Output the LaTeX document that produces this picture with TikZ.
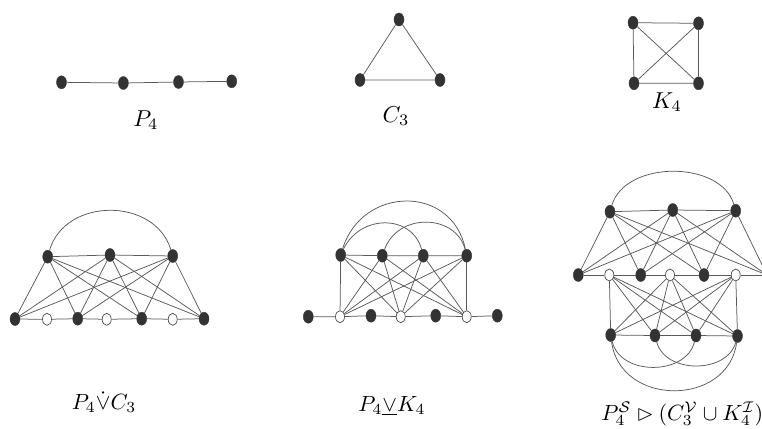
\documentclass[tikz,border=0pt]{standalone}
\usepackage{amssymb}
\usetikzlibrary{shapes.geometric}
\begin{document}
\begin{tikzpicture}[x=1pt,y=-1pt,
  vb/.style={ellipse,fill=black!80,draw=black!80,minimum width=10pt,minimum height=13pt,inner sep=0pt},
  vw/.style={ellipse,fill=white,draw=black!70,line width=0.7pt,minimum width=9pt,minimum height=12pt,inner sep=0pt},
  ed/.style={draw=black!65,line width=0.75pt},
  lab/.style={scale=2.2,inner sep=0pt},
  labt/.style={scale=2.3,inner sep=0pt}]
\useasboundingbox (0,0) rectangle (762,428);
% ---------- top row ----------
\node[vb] (p1) at (61.5,82.3) {};
\node[vb] (p2) at (123.4,83) {};
\node[vb] (p3) at (178.5,82) {};
\node[vb] (p4) at (231.7,81.3) {};
\draw[ed] (p1) -- (p2) -- (p3) -- (p4);
\node[labt] (lp) at (146,120) {$P_4$};

\node[vb] (c1) at (399,19.5) {};
\node[vb] (c2) at (360,80) {};
\node[vb] (c3) at (440,80) {};
\draw[ed] (c1) -- (c2) -- (c3) -- (c1);
\node[labt] (lc) at (396,116) {$C_3$};

\node[vb] (k1) at (633,22.7) {};
\node[vb] (k2) at (698.5,23.3) {};
\node[vb] (k3) at (634,83.3) {};
\node[vb] (k4) at (698.5,83.3) {};
\draw[ed] (k1) -- (k2) -- (k4) -- (k3) -- (k1);
\draw[ed] (k1) -- (k4);
\draw[ed] (k2) -- (k3);
\node[labt] (lk) at (667,102) {$K_4$};

% ---------- figure 1 ----------
\node[vb] (A1) at (47.7,256.7) {};
\node[vb] (A2) at (110,255) {};
\node[vb] (A3) at (172.7,256) {};
\node[vb] (B1) at (15,319) {};
\node[vw] (W1) at (47,319.3) {};
\node[vb] (B2) at (77.7,318.7) {};
\node[vw] (W2) at (106.7,319.3) {};
\node[vb] (B3) at (141.7,318.7) {};
\node[vw] (W3) at (172.7,319.3) {};
\node[vb] (B4) at (204,318.7) {};
\draw[ed] (A1) -- (A2) -- (A3);
\draw[ed] (A1) .. controls (65,197) and (155,197) .. (A3);
\draw[ed] (B1) -- (W1) -- (B2) -- (W2) -- (B3) -- (W3) -- (B4);
\foreach \a in {A1,A2,A3}{\foreach \b in {B1,B2,B3,B4}{\draw[ed] (\a) -- (\b);}}
\node[lab] (l1) at (104,402) {$P_4\dot{\vee}C_3$};

% ---------- figure 2 ----------
\node[vb] (D1) at (340.7,255) {};
\node[vb] (D2) at (382.3,255.7) {};
\node[vb] (D3) at (423.3,255.7) {};
\node[vb] (D4) at (466.7,255.7) {};
\node[vb] (E1) at (308.3,316.7) {};
\node[vw] (X1) at (340,316.7) {};
\node[vb] (E2) at (371,315.7) {};
\node[vw] (X2) at (400.7,316.7) {};
\node[vb] (E3) at (435.7,315.7) {};
\node[vw] (X3) at (466.7,316.7) {};
\node[vb] (E4) at (497.3,315.7) {};
\draw[ed] (D1) -- (D2) -- (D3) -- (D4);
\draw[ed] (D1) .. controls (362,186) and (452,184) .. (D4);
\draw[ed] (D1) .. controls (360,214) and (412,214) .. (D3);
\draw[ed] (D2) .. controls (398,212) and (456,214) .. (D4);
\draw[ed] (E1) -- (X1) -- (E2) -- (X2) -- (E3) -- (X3) -- (E4);
\foreach \a in {D1,D2,D3,D4}{\foreach \b in {X1,X2,X3}{\draw[ed] (\a) -- (\b);}}
\node[lab] (l2) at (392,406) {$P_4\underline{\vee}K_4$};

% ---------- figure 3 ----------
\node[vb] (T1) at (610,211.7) {};
\node[vb] (T2) at (672.7,210) {};
\node[vb] (T3) at (735.7,210.7) {};
\node[vb] (M1) at (578.3,275) {};
\node[vw] (O1) at (609.3,275) {};
\node[vb] (M2) at (640.7,275) {};
\node[vw] (O2) at (670,275) {};
\node[vb] (M3) at (704,275) {};
\node[vw] (O3) at (735.7,275) {};
\node[vb] (M4) at (767,275) {};
\node[vb] (Q1) at (610.7,335) {};
\node[vb] (Q2) at (655,335.5) {};
\node[vb] (Q3) at (696,335.5) {};
\node[vb] (Q4) at (737.5,336) {};
\draw[ed] (T1) -- (T2) -- (T3);
\draw[ed] (T1) .. controls (625,160) and (721,160) .. (T3);
\draw[ed] (M1) -- (O1) -- (M2) -- (O2) -- (M3) -- (O3) -- (M4);
\draw[ed] (Q1) -- (Q2) -- (Q3) -- (Q4);
\draw[ed] (Q1) .. controls (620,376) and (686,376) .. (Q3);
\draw[ed] (Q2) .. controls (665,374) and (727,374) .. (Q4);
\draw[ed] (Q1) .. controls (620,407) and (728,407) .. (Q4);
\foreach \a in {T1,T2,T3}{\foreach \b in {M1,M2,M3,M4}{\draw[ed] (\a) -- (\b);}}
\foreach \a in {Q1,Q2,Q3,Q4}{\foreach \b in {O1,O2,O3}{\draw[ed] (\a) -- (\b);}}
\node[lab,anchor=west] (l3) at (601,414) {$P_4^{\mathcal S} \rhd (C_3^{\mathcal V} \cup K_4^{\mathcal I})$};
\end{tikzpicture}
\end{document}
